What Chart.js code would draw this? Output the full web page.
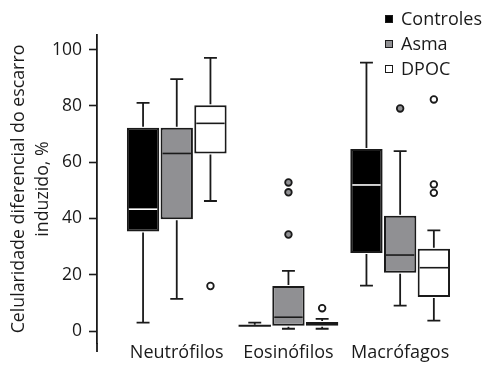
<!DOCTYPE html>
<html lang="pt">
<head>
  <meta charset="UTF-8">
  <title>Celularidade diferencial do escarro induzido</title>
  <script src="https://cdn.jsdelivr.net/npm/chart.js"></script>
  <style>
    body {
      margin: 0;
      background: #fff;
      font-family: 'Open Sans', sans-serif;
    }
    .wrap {
      position: relative;
      width: 486px;
      height: 368px;
    }
    .legend {
      position: absolute;
      left: 385px;
      top: 6px;
      color: #1a1a1a;
      font-size: 18px;
    }
    .legend div {
      height: 25px;
      line-height: 25px;
      white-space: nowrap;
    }
    .legend span {
      display: inline-block;
      width: 6px;
      height: 6px;
      border: 1.5px solid #1a1a1a;
      margin-right: 8px;
      vertical-align: middle;
      position: relative;
      top: -1px;
    }
  </style>
</head>
<body>
  <div class="wrap">
    <canvas id="chart" width="486" height="368"></canvas>
    <div class="legend" id="legend"></div>
  </div>

  <script>
    // categories and groups
    const categories = ['Neutrófilos', 'Eosinófilos', 'Macrófagos'];
    const groups = ['Controles', 'Asma', 'DPOC'];
    const yTicks = [0, 20, 40, 60, 80, 100];

    // box plot values (%), one entry per category
    const controlesMin = [3.0, 1.9, 16.1];
    const controlesQ1 = [35.4, 1.9, 27.7];
    const controlesMedian = [43.3, 1.9, 51.9];
    const controlesQ3 = [72.2, 1.9, 64.7];
    const controlesMax = [81.1, 3.0, 95.4];
    const controlesOutliers = [[], [], []];

    const asmaMin = [11.4, 0.8, 9.0];
    const asmaQ1 = [39.7, 1.9, 20.7];
    const asmaMedian = [63.1, 4.9, 27.0];
    const asmaQ3 = [72.2, 16.0, 41.0];
    const asmaMax = [89.5, 21.4, 63.9];
    const asmaOutliers = [[], [52.8, 49.3, 34.3], [79.1]];

    const dpocMin = [46.2, 0.8, 3.7];
    const dpocQ1 = [63.1, 1.9, 12.1];
    const dpocMedian = [73.8, 2.5, 22.5];
    const dpocQ3 = [80.2, 3.2, 29.2];
    const dpocMax = [97.1, 4.3, 35.8];
    const dpocOutliers = [[16.0], [8.1], [82.3, 52.1, 49.1]];

    const ink = '#1a1a1a';
    const fills = ['#000000', '#909093', '#ffffff'];
    const medianColors = ['#ffffff', ink, ink];

    const stats = [
      { min: controlesMin, q1: controlesQ1, med: controlesMedian, q3: controlesQ3, max: controlesMax, out: controlesOutliers },
      { min: asmaMin, q1: asmaQ1, med: asmaMedian, q3: asmaQ3, max: asmaMax, out: asmaOutliers },
      { min: dpocMin, q1: dpocQ1, med: dpocMedian, q3: dpocQ3, max: dpocMax, out: dpocOutliers }
    ];

    const datasets = groups.map((g, gi) => ({
      label: g,
      data: categories.map((c, i) => ({ x: i, y: [stats[gi].q1[i], stats[gi].q3[i]] })),
      backgroundColor: fills[gi],
      borderColor: ink,
      borderWidth: 2,
      borderSkipped: false,
      stats: stats[gi],
      medianColor: medianColors[gi]
    }));

    // whiskers, medians and outliers on top of the floating bars
    const boxPlugin = {
      id: 'boxWhiskers',
      afterDatasetsDraw(chart) {
        const ctx = chart.ctx;
        const y = chart.scales.y;
        chart.data.datasets.forEach((ds, di) => {
          const meta = chart.getDatasetMeta(di);
          const s = ds.stats;
          meta.data.forEach((bar, i) => {
            const { x, width } = bar.getProps(['x', 'width'], true);
            const half = width / 2;
            const cap = width * 0.2;
            const pMin = y.getPixelForValue(s.min[i]);
            const pQ1 = y.getPixelForValue(s.q1[i]);
            const pMed = y.getPixelForValue(s.med[i]);
            const pQ3 = y.getPixelForValue(s.q3[i]);
            const pMax = y.getPixelForValue(s.max[i]);

            ctx.save();
            ctx.strokeStyle = ink;
            ctx.lineWidth = 1.8;
            ctx.beginPath();
            if (pMax < pQ3 - 1) {
              ctx.moveTo(x, pQ3 - 1);
              ctx.lineTo(x, pMax);
              ctx.moveTo(x - cap, pMax);
              ctx.lineTo(x + cap, pMax);
            }
            if (pMin > pQ1 + 1) {
              ctx.moveTo(x, pQ1 + 1);
              ctx.lineTo(x, pMin);
              ctx.moveTo(x - cap, pMin);
              ctx.lineTo(x + cap, pMin);
            }
            ctx.stroke();

            // median
            ctx.beginPath();
            if (Math.abs(pQ1 - pQ3) < 2) {
              ctx.strokeStyle = ink;
              ctx.lineWidth = 2;
              ctx.moveTo(x - half, pMed);
              ctx.lineTo(x + half, pMed);
            } else {
              ctx.strokeStyle = ds.medianColor;
              ctx.lineWidth = 1.6;
              ctx.moveTo(x - half + 2, pMed);
              ctx.lineTo(x + half - 2, pMed);
            }
            ctx.stroke();

            // outliers
            ctx.lineWidth = 1.8;
            ctx.strokeStyle = ink;
            ctx.fillStyle = ds.backgroundColor;
            s.out[i].forEach(v => {
              ctx.beginPath();
              ctx.arc(x, y.getPixelForValue(v), 3.3, 0, Math.PI * 2);
              ctx.fill();
              ctx.stroke();
            });
            ctx.restore();
          });
        });
      },
      // the y axis line runs a bit past the bottom of the plot
      afterDraw(chart) {
        const { left, bottom } = chart.chartArea;
        const ctx = chart.ctx;
        ctx.save();
        ctx.strokeStyle = ink;
        ctx.lineWidth = 1.8;
        ctx.beginPath();
        ctx.moveTo(left, bottom);
        ctx.lineTo(left, bottom + 9);
        ctx.stroke();
        ctx.restore();
      }
    };

    const ctx = document.getElementById('chart').getContext('2d');
    new Chart(ctx, {
      type: 'bar',
      data: { datasets: datasets },
      plugins: [boxPlugin],
      options: {
        responsive: false,
        animation: false,
        events: [],
        categoryPercentage: 0.905,
        barPercentage: 0.96,
        layout: { padding: { top: 35, right: 30, left: 0, bottom: 0 } },
        plugins: {
          legend: { display: false },
          tooltip: { enabled: false }
        },
        scales: {
          x: {
            type: 'linear',
            offset: false,
            min: -0.714,
            max: 2.5,
            grid: { display: false, drawTicks: false },
            border: { display: false },
            afterBuildTicks: s => { s.ticks = categories.map((c, i) => ({ value: i })); },
            afterFit: s => { s.height = 25; },
            ticks: {
              autoSkip: false,
              maxRotation: 0,
              padding: -1,
              color: ink,
              font: { family: 'Open Sans', size: 18 },
              callback: v => categories[v]
            }
          },
          y: {
            min: -4.26,
            max: 105.2,
            afterBuildTicks: s => { s.ticks = yTicks.map(v => ({ value: v })); },
            afterFit: s => { s.width = 97; },
            border: { color: ink, width: 1.8 },
            grid: { drawOnChartArea: false, tickLength: 8, tickColor: ink, tickWidth: 1.6 },
            ticks: {
              padding: 7,
              color: ink,
              font: { family: 'Open Sans', size: 17.5 }
            },
            title: {
              display: true,
              text: ['Celularidade diferencial do escarro', 'induzido, %'],
              color: ink,
              padding: { top: 7, bottom: 0 },
              font: { family: 'Open Sans', size: 17.8, lineHeight: 1.35 }
            }
          }
        }
      }
    });

    // legend in the upper right corner
    const legend = document.getElementById('legend');
    groups.forEach((g, gi) => {
      const row = document.createElement('div');
      const sw = document.createElement('span');
      sw.style.background = fills[gi];
      row.appendChild(sw);
      row.appendChild(document.createTextNode(g));
      legend.appendChild(row);
    });
  </script>
</body>
</html>
